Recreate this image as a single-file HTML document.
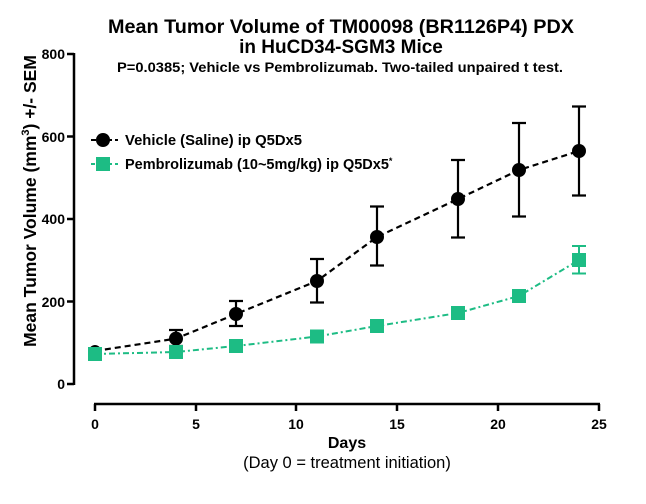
<!DOCTYPE html>
<html><head><meta charset="utf-8"><style>
body{margin:0;background:#fff}
svg{display:block;font-family:"Liberation Sans",Arial,sans-serif}
</style></head><body>
<svg width="646" height="504" xmlns="http://www.w3.org/2000/svg">
<text x="341" y="33" text-anchor="middle" font-size="19" font-weight="bold" textLength="466" lengthAdjust="spacingAndGlyphs">Mean Tumor Volume of TM00098 (BR1126P4) PDX</text>
<text x="341" y="53" text-anchor="middle" font-size="19" font-weight="bold">in HuCD34-SGM3 Mice</text>
<text x="340" y="72" text-anchor="middle" font-size="13.5" font-weight="bold" textLength="446" lengthAdjust="spacingAndGlyphs">P=0.0385; Vehicle vs Pembrolizumab. Two-tailed unpaired t test.</text>
<g stroke="#000" stroke-width="2.5" fill="none">
<line x1="74" y1="53" x2="74" y2="385"/>
<line x1="67" y1="54" x2="74" y2="54"/><line x1="67" y1="136.5" x2="74" y2="136.5"/><line x1="67" y1="219" x2="74" y2="219"/><line x1="67" y1="301.5" x2="74" y2="301.5"/><line x1="67" y1="384" x2="74" y2="384"/>
<line x1="94" y1="404" x2="600" y2="404"/>
<line x1="95" y1="404" x2="95" y2="411"/><line x1="196" y1="404" x2="196" y2="411"/><line x1="296" y1="404" x2="296" y2="411"/><line x1="397" y1="404" x2="397" y2="411"/><line x1="498" y1="404" x2="498" y2="411"/><line x1="599" y1="404" x2="599" y2="411"/>
</g>
<g font-size="14" font-weight="bold" text-anchor="end">
<text x="65" y="59">800</text><text x="65" y="142">600</text><text x="65" y="224">400</text><text x="65" y="307">200</text><text x="65" y="389">0</text>
</g>
<g font-size="14" font-weight="bold" text-anchor="middle">
<text x="95" y="429">0</text><text x="196" y="429">5</text><text x="296" y="429">10</text><text x="397" y="429">15</text><text x="498" y="429">20</text><text x="599" y="429">25</text>
</g>
<text x="347" y="448" text-anchor="middle" font-size="16" font-weight="bold">Days</text>
<text x="347" y="468" text-anchor="middle" font-size="16.5">(Day 0 = treatment initiation)</text>
<text transform="translate(36,201) rotate(-90)" text-anchor="middle" font-size="17.5" font-weight="bold">Mean Tumor Volume (mm<tspan dy="-7" font-size="11">3</tspan><tspan dy="7">) +/- SEM</tspan></text>
<g stroke="#000" stroke-width="2.2" fill="none">
<path d="M95 351 L176 338.6 L236 314 L317 281 L377 237 L458 199 L519 170 L579 151" stroke-dasharray="6,4"/>
<path d="M176 346 V330 M169 346 H183 M169 330 H183 M236 326 V301 M229 326 H243 M229 301 H243 M317 302.5 V259 M310 302.5 H324 M310 259 H324 M377 265.5 V206.5 M370 265.5 H384 M370 206.5 H384 M458 237.5 V160 M451 237.5 H465 M451 160 H465 M519 216.5 V123 M512 216.5 H526 M512 123 H526 M579 195.5 V106.5 M572 195.5 H586 M572 106.5 H586"/>
</g>
<g fill="#000">
<circle cx="95" cy="351" r="6"/><circle cx="176" cy="338.6" r="7"/><circle cx="236" cy="314" r="7"/><circle cx="317" cy="281" r="7"/><circle cx="377" cy="237" r="7"/><circle cx="458" cy="199" r="7"/><circle cx="519" cy="170" r="7"/><circle cx="579" cy="151" r="7"/>
</g>
<g stroke="#1dbc84" stroke-width="2" fill="none">
<path d="M95 354 L176 352 L236 346 L317 336.5 L377 326 L458 313 L519 296 L579 260" stroke-dasharray="6,3,2,3"/>
<path d="M519 299.5 V292.5 M512 299.5 H526 M512 292.5 H526 M579 273.5 V246 M572 273.5 H586 M572 246 H586"/>
</g>
<g fill="#1dbc84">
<rect x="88" y="347" width="14" height="14"/><rect x="169" y="345" width="14" height="14"/><rect x="229" y="339" width="14" height="14"/><rect x="310" y="329.5" width="14" height="14"/><rect x="370" y="319" width="14" height="14"/><rect x="451" y="306" width="14" height="14"/><rect x="512" y="289" width="14" height="14"/><rect x="572" y="253" width="14" height="14"/>
</g>
<line x1="91" y1="140" x2="118" y2="140" stroke="#000" stroke-width="2" stroke-dasharray="5,3"/>
<circle cx="103" cy="140" r="7" fill="#000"/>
<text x="125" y="145" font-size="14.5" font-weight="bold" textLength="177" lengthAdjust="spacingAndGlyphs">Vehicle (Saline) ip Q5Dx5</text>
<line x1="91" y1="164" x2="118" y2="164" stroke="#1dbc84" stroke-width="2" stroke-dasharray="4,3,2,3"/>
<rect x="96" y="157" width="14" height="14" fill="#1dbc84"/>
<text x="125" y="169" font-size="14.5" font-weight="bold">Pembrolizumab (10~5mg/kg) ip Q5Dx5<tspan font-size="9" dy="-5">*</tspan></text>
</svg>
</body></html>
